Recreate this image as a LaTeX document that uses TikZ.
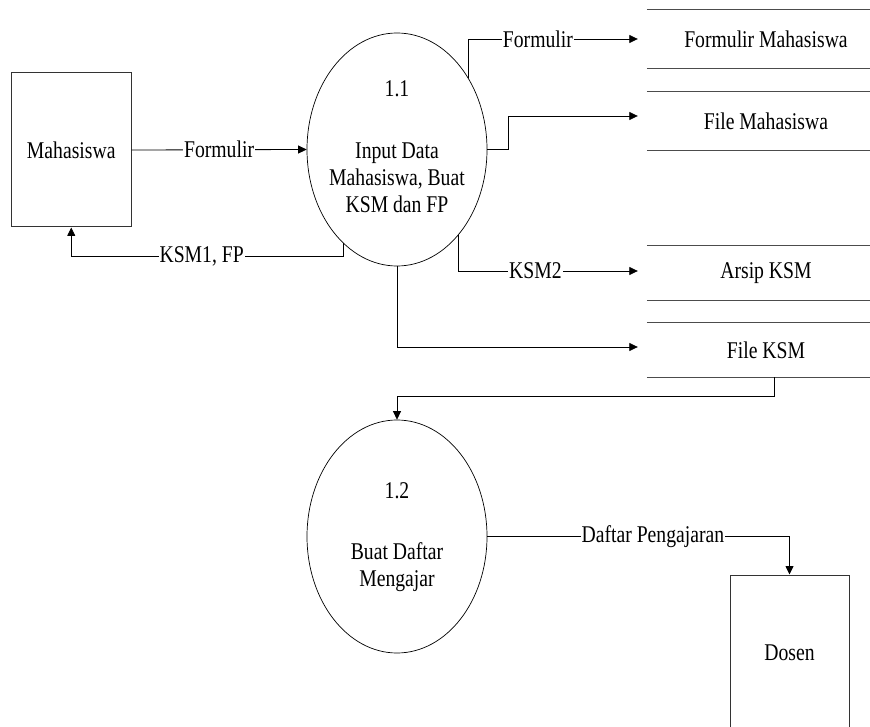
\documentclass[tikz,border=0pt]{standalone}
\usepackage{fontspec}
\setmainfont{Liberation Serif}[FakeStretch=0.82]
\usetikzlibrary{shapes.geometric,arrows.meta,calc}
\begin{document}
\begin{tikzpicture}[x=1pt,y=-1pt,
  ent/.style={draw=black!80, line width=1pt, rectangle, inner sep=0},
  proc/.style={draw, ellipse, line width=0.7pt, minimum width=180pt, minimum height=233pt, inner sep=0},
  store/.style={rectangle, inner sep=0, minimum width=238pt},
  sline/.style={draw=black!70, line width=1.2pt},
  flow/.style={line width=0.8pt, -{Triangle[length=8.5pt,width=8pt]}},
  lbl/.style={fill=white, inner sep=1pt},
  txt/.style={align=center, inner sep=0},
  font=\fontsize{24}{27}\selectfont]
\path[use as bounding box, clip] (0,0) rectangle (870,727);

% entities
\node[ent, minimum width=119.5pt, minimum height=154pt] (m) at (71.25,150) {Mahasiswa};
\node[ent, minimum width=119pt, minimum height=170pt] (d) at (789.5,660) {};
\node[txt] (dt) at (789.5,653) {Dosen};

% processes
\node[proc] (p11) at (397,149.5) {};
\node[txt] (p11t) at (397,147) {1.1\\[35pt]Input Data\\Mahasiswa, Buat\\KSM dan FP};
\node[proc] (p12) at (397,536.5) {};
\node[txt] (p12t) at (397,537.5) {1.2\\[34pt]Buat Daftar\\Mengajar};

% data stores
\node[store, minimum height=58pt] (s1) at (766,39) {Formulir Mahasiswa};
\node[store, minimum height=58pt] (s2) at (766,121) {File Mahasiswa};
\node[store, minimum height=54pt] (s3) at (766,273) {Arsip KSM};
\node[store, minimum height=54pt] (s4) at (766,350) {File KSM};
\foreach \s in {s1,s2,s3,s4}
  \draw[sline] (\s.north west) -- (\s.north east) (\s.south west) -- (\s.south east);

% flows
\draw[flow] (m.east) -- node[lbl]{Formulir} (p11.west);
\draw[flow] (p11.45) |- node[lbl,pos=0.705]{Formulir} ([xshift=-9pt]s1.west);
\draw[flow] (p11.east) -- ++(21,0) |- ([xshift=-9pt,yshift=5pt]s2.west);
\draw[flow] (p11.-54.6) |- node[lbl,pos=0.714]{KSM2} ([xshift=-9pt,yshift=2pt]s3.west);
\draw[flow] (p11.south) |- ([xshift=-9pt,yshift=3pt]s4.west);
\draw[flow] (p11.-120.1) -- ++(0,13) -| node[lbl,pos=0.26]{KSM1, FP} (m.south);
\draw[flow] ([xshift=8pt]s4.south) -- ++(0,19) -| (p12.north);
\draw[flow] (p12.east) -| node[lbl,pos=0.274]{Daftar Pengajaran} (d.north);
\end{tikzpicture}
\end{document}
